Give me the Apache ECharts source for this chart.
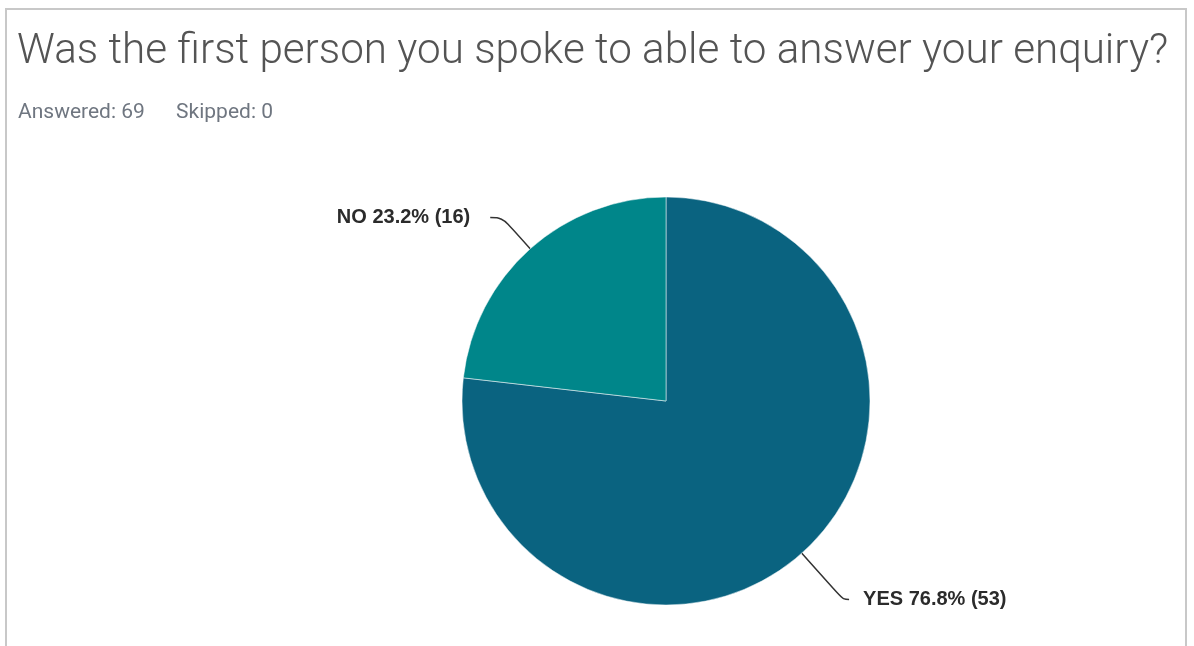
<!DOCTYPE html>
<html>
<head>
<meta charset="utf-8">
<script src="https://cdn.jsdelivr.net/npm/echarts@6/dist/echarts.min.js"></script>
<style>
  html, body { margin: 0; padding: 0; background: #ffffff; }
  #frame {
    position: absolute; left: 5px; top: 8px; width: 1182px; height: 660px;
    border: 2px solid #c8c8c8; box-sizing: border-box; background: #fff;
  }
  #chart { position: absolute; left: 0; top: 0; width: 1194px; height: 646px; }
</style>
</head>
<body>
<div id="frame"></div>
<div id="chart"></div>
<script>
// Survey question and response counts
const questionTitle = 'Was the first person you spoke to able to answer your enquiry?';
const answeredCount = 69;
const skippedCount = 0;
const categories = ['YES', 'NO'];
const responseCounts = [53, 16];
const responsePercents = [76.8, 23.2];
const sliceColors = ['#0a6380', '#00868a'];
// leader line lengths and label gaps per slice
const leadLength = [62, 42];
const leadLength2 = [6, 12];
const labelGap = [14, 20];

const pieData = categories.map((name, i) => ({
  name: name,
  value: responseCounts[i],
  pct: responsePercents[i],
  itemStyle: { color: sliceColors[i] },
  label: { distanceToLabelLine: labelGap[i] },
  labelLine: { length: leadLength[i], length2: leadLength2[i] }
}));

const chart = echarts.init(document.getElementById('chart'), null, { renderer: 'canvas' });
chart.setOption({
  animation: false,
  title: [{
    text: questionTitle,
    left: 17, top: 31, padding: 0,
    textStyle: { fontFamily: 'Roboto', fontWeight: 300, fontSize: 42.2, color: '#545454' }
  }, {
    text: 'Answered: ' + answeredCount + '      Skipped: ' + skippedCount,
    left: 18, top: 102, padding: 0,
    textStyle: { fontFamily: 'Roboto', fontWeight: 400, fontSize: 21, color: '#6f7680' }
  }],
  series: [{
    type: 'pie',
    center: [666, 401],
    radius: 204,
    startAngle: 90,
    clockwise: true,
    data: pieData,
    itemStyle: { borderColor: 'rgba(255,255,255,0.5)', borderWidth: 1 },
    label: {
      show: true,
      position: 'outside',
      formatter: p => p.name + ' ' + p.data.pct.toFixed(1) + '% (' + p.value + ')',
      fontFamily: 'Liberation Sans', fontWeight: 'bold', fontSize: 20, color: '#2b2b2b'
    },
    labelLine: {
      show: true, smooth: 0.4,
      lineStyle: { color: '#333333', width: 1.5 }
    },
    emphasis: { disabled: true }
  }]
});
</script>
</body>
</html>
